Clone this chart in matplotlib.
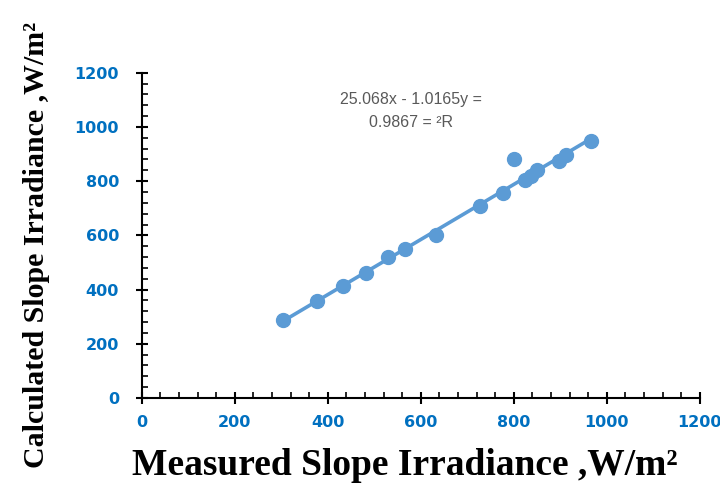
import numpy as np
import matplotlib.pyplot as plt
from matplotlib.ticker import MultipleLocator

# measured vs calculated slope irradiance (W/m2)
measured = [303, 377, 432, 482, 530, 567, 632, 727, 777, 800, 825, 836, 849, 897, 913, 965]
calculated = [288, 359, 414, 462, 519, 548, 601, 709, 755, 882, 804, 819, 843, 875, 898, 949]

slope = 1.0165
intercept = -25.068
r2 = 0.9867

blue = '#5B9BD5'
tick_blue = '#0070C0'

fig = plt.figure(figsize=(7.2, 4.95), dpi=100)
ax = fig.add_axes([0.197, 0.196, 0.775, 0.657])

# linear trendline over the measured range
xl = np.array([min(measured), max(measured)])
ax.plot(xl, slope * xl + intercept, color=blue, lw=2.6, zorder=2)
ax.plot(measured, calculated, 'o', color=blue, ms=10, zorder=3)

ax.text(578, 1100, '25.068x - 1.0165y =', ha='center', va='center',
        fontsize=11.5, color='#595959', family='Liberation Sans')
ax.text(578, 1018, '%.4f = \u00b2R' % r2, ha='center', va='center',
        fontsize=11.5, color='#595959', family='Liberation Sans')

ax.set_xlim(0, 1200)
ax.set_ylim(0, 1200)
ax.xaxis.set_major_locator(MultipleLocator(200))
ax.yaxis.set_major_locator(MultipleLocator(200))
ax.xaxis.set_minor_locator(MultipleLocator(40))
ax.yaxis.set_minor_locator(MultipleLocator(40))

for s in ['top', 'right']:
    ax.spines[s].set_visible(False)
for s in ['left', 'bottom']:
    ax.spines[s].set_linewidth(1.5)
    ax.spines[s].set_color('black')

ax.tick_params(which='major', direction='inout', length=9, width=1.5)
ax.tick_params(axis='y', which='major', pad=12)
ax.tick_params(axis='x', which='major', pad=8)
ax.tick_params(which='minor', direction='in', length=4, width=1.2)
for lab in ax.get_xticklabels() + ax.get_yticklabels():
    lab.set_color(tick_blue)
    lab.set_fontweight('bold')
    lab.set_fontsize(11.5)
    lab.set_family('DejaVu Sans')

ax.set_xlabel('Measured Slope Irradiance ,W/m\u00b2', fontsize=27, fontweight='bold',
              family='Liberation Serif')
ax.set_ylabel('Calculated Slope Irradiance ,W/m\u00b2', fontsize=21.5, fontweight='bold',
              family='Liberation Serif')
ax.xaxis.set_label_coords(0.471, -0.154)
ax.yaxis.set_label_coords(-0.165, 0.47)

fig.savefig('out.png', dpi=100)
